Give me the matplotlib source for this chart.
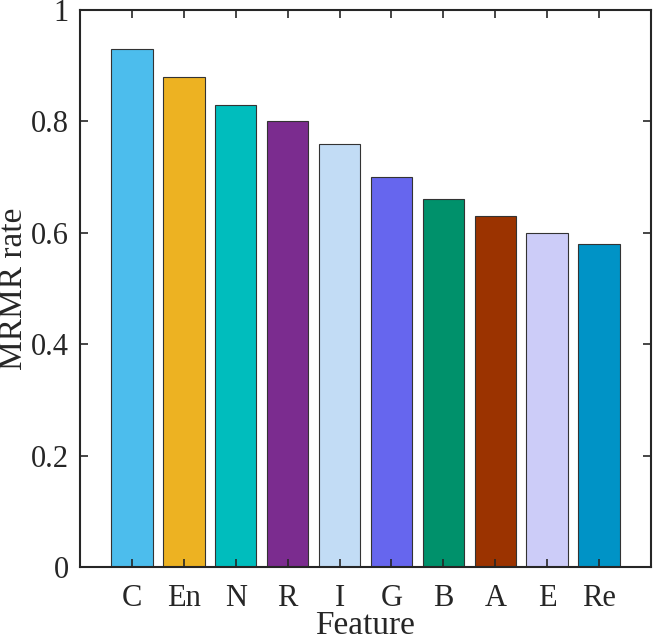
import matplotlib
matplotlib.use("Agg")
import matplotlib.pyplot as plt
from matplotlib.ticker import FuncFormatter

categories = ["C", "En", "N", "R", "I", "G", "B", "A", "E", "Re"]
values = [0.93, 0.88, 0.83, 0.80, 0.76, 0.70, 0.66, 0.63, 0.60, 0.58]
colors = ["#4CBDED", "#EDB222", "#00BDBD", "#7B2C8F", "#C2DCF5",
          "#6666EE", "#00916B", "#9B3300", "#CCCCF8", "#0093C6"]
yticks = [0, 0.2, 0.4, 0.6, 0.8, 1.0]

plt.rcParams['font.family'] = ['Liberation Serif', 'DejaVu Serif']

fig = plt.figure(figsize=(6.53, 6.42), dpi=100)
ax = fig.add_axes([80/653, 75/642, 571/653, 557/642])

x = list(range(1, len(categories) + 1))
ax.bar(x, values, width=0.8, color=colors, edgecolor="#333333", linewidth=0.8)

ax.set_xlim(0, len(categories) + 1)
ax.set_ylim(0, 1)
ax.set_xticks(x)
ax.set_xticklabels(categories)
ax.set_yticks(yticks)
ax.yaxis.set_major_formatter(FuncFormatter(lambda v, p: f"{v:g}"))

ax.tick_params(direction="in", length=6, width=1.2, top=True, right=True,
               labelsize=22, colors="#262626")
ax.tick_params(axis="x", pad=12)
ax.tick_params(axis="y", pad=8)
for s in ax.spines.values():
    s.set_linewidth(1.5)
    s.set_color("#262626")

ax.set_xlabel("Feature", fontsize=24, color="#262626", labelpad=-1.5)
ax.set_ylabel("MRMR rate", fontsize=24, color="#262626", labelpad=1)

fig.savefig("out.png", dpi=100)
